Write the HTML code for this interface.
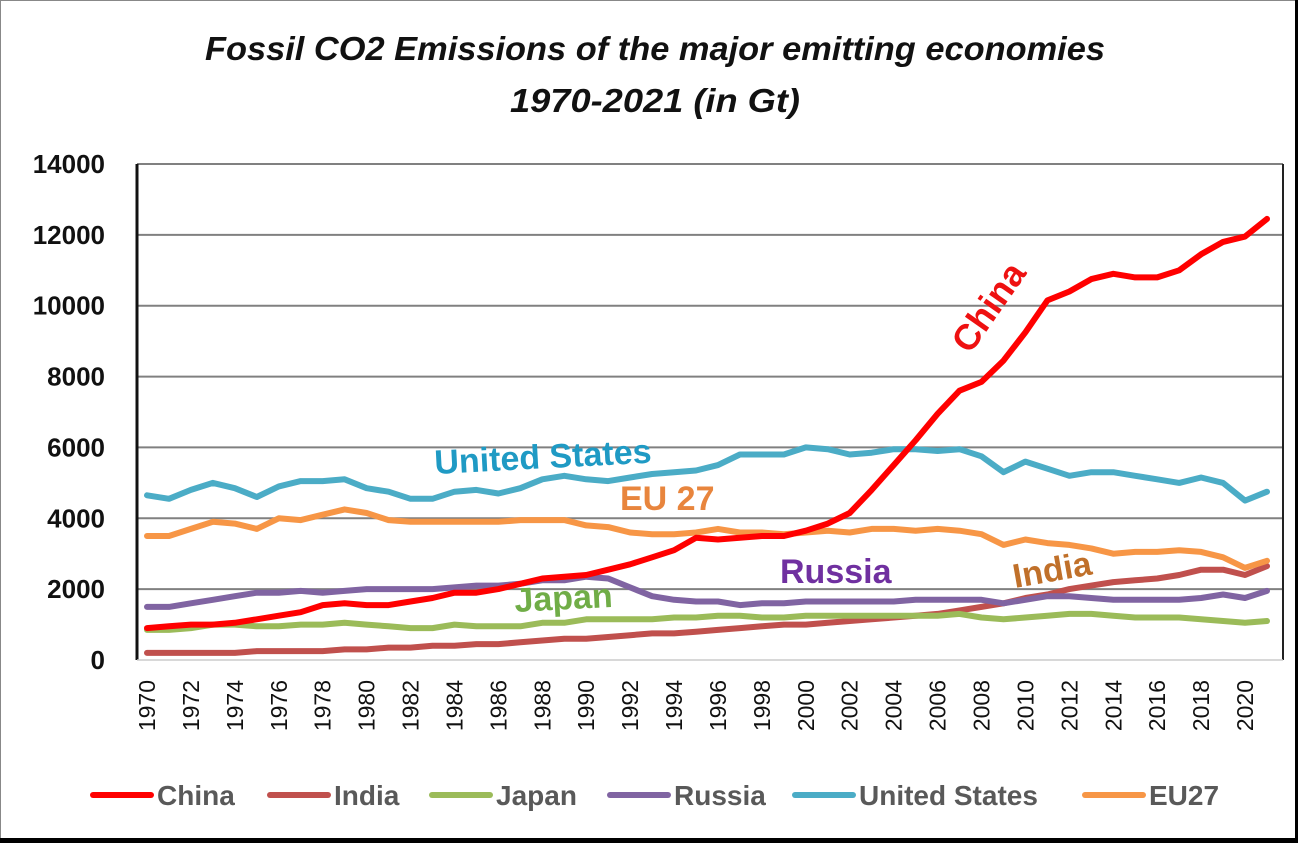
<!DOCTYPE html>
<html><head><meta charset="utf-8"><style>
body{margin:0;background:#fff;}
svg{display:block;font-family:"Liberation Sans",sans-serif;}
</style></head><body>
<svg id="chart" width="1298" height="843" viewBox="0 0 1298 843">
<rect x="0.5" y="0.5" width="1295" height="838" fill="#fff" stroke="#888" stroke-width="1"/>
<rect x="0" y="838" width="1298" height="5" fill="#000"/>
<rect x="1295" y="0" width="3" height="843" fill="#000"/>
<text x="655" y="60" text-anchor="middle" font-size="33" font-weight="bold" font-style="italic" fill="#111" textLength="900" lengthAdjust="spacingAndGlyphs">Fossil CO2 Emissions of the major emitting economies</text>
<text x="655" y="112" text-anchor="middle" font-size="33" font-weight="bold" font-style="italic" fill="#111" textLength="290" lengthAdjust="spacingAndGlyphs">1970-2021 (in Gt)</text>
<g id="grid"></g><g id="axes"></g><g id="lines"></g><g id="legend"></g>
<text x="435" y="474" font-size="34" font-weight="bold" fill="#1f9ac4" transform="rotate(-3 435 474)">United States</text>
<text x="620" y="510" font-size="34" font-weight="bold" fill="#e8853d">EU 27</text>
<text x="780" y="583" font-size="34" font-weight="bold" fill="#7030a0">Russia</text>
<text x="515" y="612" font-size="34" font-weight="bold" fill="#70ad47" transform="rotate(-3 515 612)">Japan</text>
<text x="1015" y="588" font-size="34" font-weight="bold" fill="#c0702a" transform="rotate(-10 1015 588)">India</text>
<text x="970" y="355" font-size="36" font-weight="bold" fill="#ee1111" transform="rotate(-55 970 355)">China</text>
</svg>
<script>
const years=[];for(let y=1970;y<=2021;y++)years.push(y);
const yTicks=[0,2000,4000,6000,8000,10000,12000,14000];
const china=[900,950,1000,1000,1050,1150,1250,1350,1550,1600,1550,1550,1650,1750,1900,1900,2000,2150,2300,2350,2400,2550,2700,2900,3100,3450,3400,3450,3500,3500,3650,3850,4150,4800,5500,6200,6950,7600,7850,8450,9250,10150,10400,10750,10900,10800,10800,11000,11450,11800,11950,12450];
const usa=[4650,4550,4800,5000,4850,4600,4900,5050,5050,5100,4850,4750,4550,4550,4750,4800,4700,4850,5100,5200,5100,5050,5150,5250,5300,5350,5500,5800,5800,5800,6000,5950,5800,5850,5950,5950,5900,5950,5750,5300,5600,5400,5200,5300,5300,5200,5100,5000,5150,5000,4500,4750];
const eu27=[3500,3500,3700,3900,3850,3700,4000,3950,4100,4250,4150,3950,3900,3900,3900,3900,3900,3950,3950,3950,3800,3750,3600,3550,3550,3600,3700,3600,3600,3550,3600,3650,3600,3700,3700,3650,3700,3650,3550,3250,3400,3300,3250,3150,3000,3050,3050,3100,3050,2900,2600,2800];
const russia=[1500,1500,1600,1700,1800,1900,1900,1950,1900,1950,2000,2000,2000,2000,2050,2100,2100,2150,2250,2250,2350,2300,2050,1800,1700,1650,1650,1550,1600,1600,1650,1650,1650,1650,1650,1700,1700,1700,1700,1600,1700,1800,1800,1750,1700,1700,1700,1700,1750,1850,1750,1950];
const japan=[850,850,900,1000,1000,950,950,1000,1000,1050,1000,950,900,900,1000,950,950,950,1050,1050,1150,1150,1150,1150,1200,1200,1250,1250,1200,1200,1250,1250,1250,1250,1250,1250,1250,1300,1200,1150,1200,1250,1300,1300,1250,1200,1200,1200,1150,1100,1050,1100];
const india=[200,200,200,200,200,250,250,250,250,300,300,350,350,400,400,450,450,500,550,600,600,650,700,750,750,800,850,900,950,1000,1000,1050,1100,1150,1200,1250,1300,1400,1500,1600,1750,1850,2000,2100,2200,2250,2300,2400,2550,2550,2400,2650];
const seriesNames=["China","India","Japan","Russia","United States","EU27"];
const NS="http://www.w3.org/2000/svg";
const L=137,R=1283,T=164,B=660;
function xs(yr){return 147+(yr-1970)*(1267-147)/51;}
function ys(v){return B-(v/14000)*(B-T);}
function mk(tag,attrs,parent){const e=document.createElementNS(NS,tag);for(const k in attrs)e.setAttribute(k,attrs[k]);parent.appendChild(e);return e;}
const grid=document.getElementById('grid'),axes=document.getElementById('axes'),lines=document.getElementById('lines'),leg=document.getElementById('legend');
yTicks.forEach(t=>{
  if(t>0){const g=mk('line',{x1:L,x2:R,y1:ys(t),y2:ys(t),stroke:'#808080','stroke-width':2},grid);
  
  }
  const tx=mk('text',{x:105,y:ys(t)+9,'text-anchor':'end','font-size':26,'font-weight':'bold',fill:'#111'},axes);
  tx.textContent=t;
  
  
});
const ax=mk('line',{x1:L,x2:L,y1:T,y2:B,stroke:'#111','stroke-width':3},axes);


const rb=mk('line',{x1:R,x2:R,y1:T,y2:B,stroke:'#222','stroke-width':2},axes);


const bb=mk('line',{x1:L,x2:R,y1:B,y2:B,stroke:'#ccc','stroke-width':1.5},axes);


years.forEach(yr=>{if(yr%2)return;
  const x=xs(yr)+8;
  const tx=mk('text',{x:x,y:680,'text-anchor':'end','font-size':23,fill:'#111',transform:'rotate(-90 '+x+' 680)'},axes);
  tx.textContent=yr;
  
  
});
const data=[china,india,japan,russia,usa,eu27];
const colors=['#ff0000','#c0504d','#9bbb59','#8064a2','#4bacc6','#f79646'];
const order=[1,2,3,5,4,0];
order.forEach(i=>{
  const d=data[i].map((v,k)=>(k?'L':'M')+xs(years[k]).toFixed(1)+' '+ys(v).toFixed(1)).join(' ');
  const p=mk('path',{d:d,fill:'none',stroke:colors[i],'stroke-width':6,'stroke-linejoin':'round','stroke-linecap':'round'},lines);
  
  
});
const legX=[93,270,432,610,795,1085];
seriesNames.forEach((n,i)=>{
  const l=mk('line',{x1:legX[i],x2:legX[i]+58,y1:795,y2:795,stroke:colors[i],'stroke-width':6,'stroke-linecap':'round'},leg);
  
  
  const t=mk('text',{x:legX[i]+64,y:805,'font-size':28,'font-weight':'bold',fill:'#595959'},leg);
  t.textContent=n;
  
  
});
</script>
</body></html>
